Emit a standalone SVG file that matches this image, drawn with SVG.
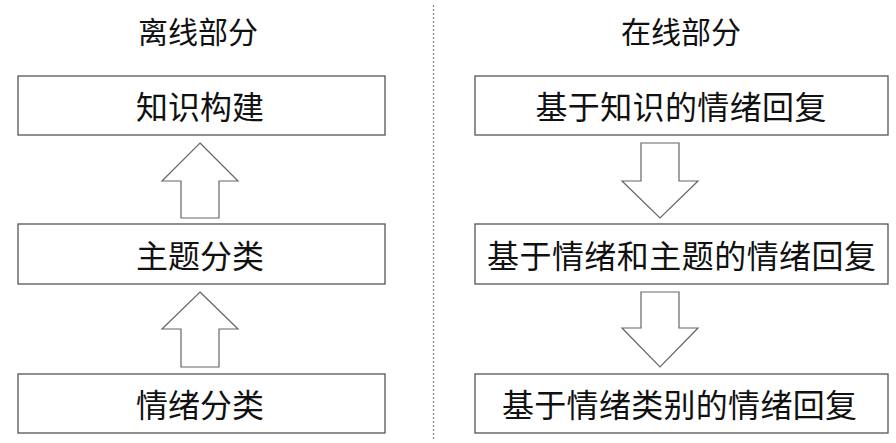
<svg xmlns="http://www.w3.org/2000/svg" width="896" height="443" viewBox="0 0 896 443">
<style>
.box{fill:#fff;stroke:#555;stroke-width:1.3}
.arr{fill:#fff;stroke:#666;stroke-width:1.2;stroke-linejoin:miter}
.t{font-family:"Noto Sans CJK SC","Noto Sans",sans-serif;font-size:32px;fill:#111;text-anchor:middle}
.h{font-family:"Noto Sans CJK SC","Noto Sans",sans-serif;font-size:30px;fill:#111;text-anchor:middle}
.div{stroke:#888;stroke-width:1.3;stroke-dasharray:2 2;fill:none}
</style>
<rect width="896" height="443" fill="#fff"/>
<g id="titles">
<text class="h" x="198" y="43">离线部分</text>
<text class="h" x="681" y="43">在线部分</text>
</g>
<line class="div" x1="433.5" y1="5" x2="433.5" y2="440"/>
<g id="n1"><rect class="box" x="18" y="76" width="367" height="59"/><text class="t" x="200" y="119">知识构建</text></g>
<g id="n2"><rect class="box" x="18" y="224" width="367" height="60"/><text class="t" x="200" y="268">主题分类</text></g>
<g id="n3"><rect class="box" x="18" y="374" width="367" height="59"/><text class="t" x="200" y="417">情绪分类</text></g>
<g id="n4"><rect class="box" x="475" y="76" width="413" height="59"/><text class="t" x="681" y="119" textLength="291" lengthAdjust="spacing">基于知识的情绪回复</text></g>
<g id="n5"><rect class="box" x="475" y="224" width="413" height="60"/><text class="t" x="681.5" y="268" textLength="389" lengthAdjust="spacing">基于情绪和主题的情绪回复</text></g>
<g id="n6"><rect class="box" x="475" y="374" width="413" height="59"/><text class="t" x="679.5" y="417" textLength="355" lengthAdjust="spacing">基于情绪类别的情绪回复</text></g>
<g id="connectors">
<polygon class="arr" points="200,143 238,181 219,181 219,218 181,218 181,181 162,181"/>
<polygon class="arr" points="200,292 238,329 219,329 219,367 181,367 181,329 162,329"/>
<polygon class="arr" points="641,143 679,143 679,181 698,181 660,218 622,181 641,181"/>
<polygon class="arr" points="641,292 679,292 679,328 698,328 660,367 622,328 641,328"/>
</g>
</svg>
